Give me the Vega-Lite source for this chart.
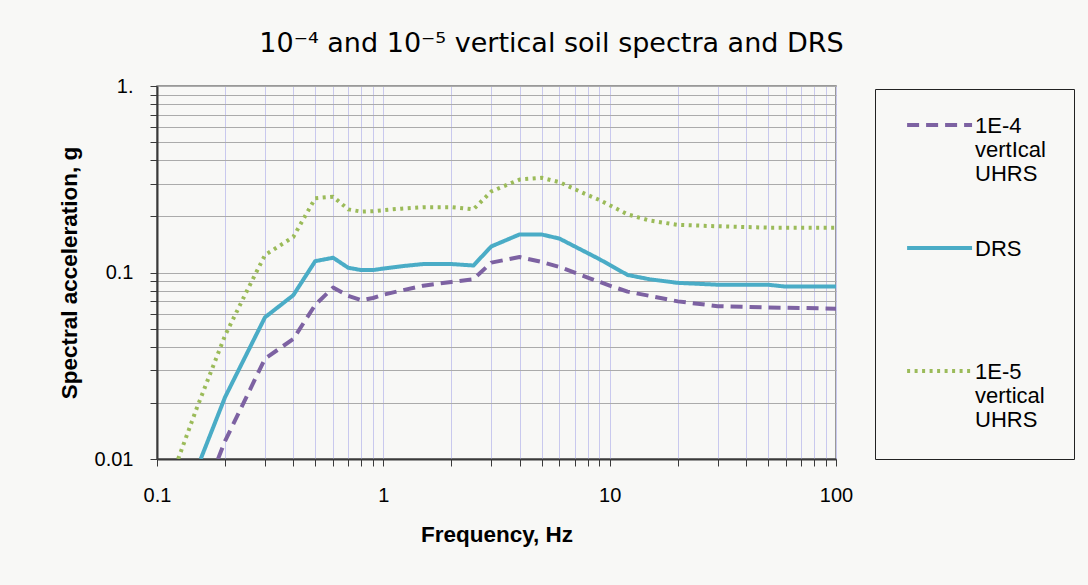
{
  "$schema": "https://vega.github.io/schema/vega-lite/v6.json",
  "width": 679,
  "height": 373,
  "autosize": {"type": "none"},
  "padding": {"left": 157, "top": 86, "right": 252, "bottom": 126},
  "background": "#f8f8f6",
  "title": {
    "text": "10⁻⁴ and 10⁻⁵ vertical soil spectra and DRS",
    "anchor": "middle",
    "frame": "group",
    "dx": 55,
    "dy": 35,
    "offset": 32,
    "baseline": "alphabetic",
    "font": "DejaVu Sans",
    "fontSize": 27,
    "fontWeight": "normal",
    "color": "#000000"
  },
  "config": {
    "view": {"stroke": "#7a7a7a", "strokeWidth": 1.5, "fill": "#f8f8f6"},
    "axis": {
      "labelFont": "Liberation Sans",
      "labelFontSize": 20,
      "labelColor": "#000000",
      "titleFont": "Liberation Sans",
      "titleFontSize": 22.5,
      "titleFontWeight": "bold",
      "titleColor": "#000000",
      "domainColor": "#3a3a3a",
      "domainWidth": 2,
      "tickColor": "#3a3a3a",
      "tickSize": 7,
      "gridWidth": 1
    },
    "legend": {
      "gridAlign": "all"
    }
  },
  "data": {
    "values": [
      {"f": 0.186, "sa": 0.01, "series": "1E-4 vertIcal UHRS"},
      {"f": 0.2, "sa": 0.0125, "series": "1E-4 vertIcal UHRS"},
      {"f": 0.3, "sa": 0.0345, "series": "1E-4 vertIcal UHRS"},
      {"f": 0.4, "sa": 0.044, "series": "1E-4 vertIcal UHRS"},
      {"f": 0.5, "sa": 0.067, "series": "1E-4 vertIcal UHRS"},
      {"f": 0.6, "sa": 0.083, "series": "1E-4 vertIcal UHRS"},
      {"f": 0.7, "sa": 0.075, "series": "1E-4 vertIcal UHRS"},
      {"f": 0.8, "sa": 0.071, "series": "1E-4 vertIcal UHRS"},
      {"f": 0.9, "sa": 0.073, "series": "1E-4 vertIcal UHRS"},
      {"f": 1.0, "sa": 0.076, "series": "1E-4 vertIcal UHRS"},
      {"f": 1.2, "sa": 0.08, "series": "1E-4 vertIcal UHRS"},
      {"f": 1.5, "sa": 0.085, "series": "1E-4 vertIcal UHRS"},
      {"f": 2.0, "sa": 0.089, "series": "1E-4 vertIcal UHRS"},
      {"f": 2.5, "sa": 0.092, "series": "1E-4 vertIcal UHRS"},
      {"f": 3.0, "sa": 0.113, "series": "1E-4 vertIcal UHRS"},
      {"f": 4.0, "sa": 0.121, "series": "1E-4 vertIcal UHRS"},
      {"f": 5.0, "sa": 0.114, "series": "1E-4 vertIcal UHRS"},
      {"f": 6.0, "sa": 0.107, "series": "1E-4 vertIcal UHRS"},
      {"f": 8.0, "sa": 0.094, "series": "1E-4 vertIcal UHRS"},
      {"f": 10, "sa": 0.085, "series": "1E-4 vertIcal UHRS"},
      {"f": 12, "sa": 0.079, "series": "1E-4 vertIcal UHRS"},
      {"f": 20, "sa": 0.07, "series": "1E-4 vertIcal UHRS"},
      {"f": 30, "sa": 0.066, "series": "1E-4 vertIcal UHRS"},
      {"f": 50, "sa": 0.065, "series": "1E-4 vertIcal UHRS"},
      {"f": 100, "sa": 0.064, "series": "1E-4 vertIcal UHRS"},

      {"f": 0.156, "sa": 0.01, "series": "DRS"},
      {"f": 0.2, "sa": 0.0215, "series": "DRS"},
      {"f": 0.3, "sa": 0.0575, "series": "DRS"},
      {"f": 0.4, "sa": 0.0755, "series": "DRS"},
      {"f": 0.5, "sa": 0.115, "series": "DRS"},
      {"f": 0.6, "sa": 0.12, "series": "DRS"},
      {"f": 0.7, "sa": 0.106, "series": "DRS"},
      {"f": 0.8, "sa": 0.103, "series": "DRS"},
      {"f": 0.9, "sa": 0.103, "series": "DRS"},
      {"f": 1.0, "sa": 0.105, "series": "DRS"},
      {"f": 1.2, "sa": 0.108, "series": "DRS"},
      {"f": 1.5, "sa": 0.111, "series": "DRS"},
      {"f": 2.0, "sa": 0.111, "series": "DRS"},
      {"f": 2.5, "sa": 0.109, "series": "DRS"},
      {"f": 3.0, "sa": 0.138, "series": "DRS"},
      {"f": 4.0, "sa": 0.16, "series": "DRS"},
      {"f": 5.0, "sa": 0.16, "series": "DRS"},
      {"f": 6.0, "sa": 0.152, "series": "DRS"},
      {"f": 8.0, "sa": 0.127, "series": "DRS"},
      {"f": 9.0, "sa": 0.118, "series": "DRS"},
      {"f": 12, "sa": 0.097, "series": "DRS"},
      {"f": 15, "sa": 0.092, "series": "DRS"},
      {"f": 20, "sa": 0.088, "series": "DRS"},
      {"f": 30, "sa": 0.086, "series": "DRS"},
      {"f": 50, "sa": 0.086, "series": "DRS"},
      {"f": 60, "sa": 0.084, "series": "DRS"},
      {"f": 100, "sa": 0.084, "series": "DRS"},

      {"f": 0.124, "sa": 0.01, "series": "1E-5 vertical UHRS"},
      {"f": 0.15, "sa": 0.0188, "series": "1E-5 vertical UHRS"},
      {"f": 0.2, "sa": 0.046, "series": "1E-5 vertical UHRS"},
      {"f": 0.25, "sa": 0.08, "series": "1E-5 vertical UHRS"},
      {"f": 0.3, "sa": 0.124, "series": "1E-5 vertical UHRS"},
      {"f": 0.4, "sa": 0.155, "series": "1E-5 vertical UHRS"},
      {"f": 0.5, "sa": 0.25, "series": "1E-5 vertical UHRS"},
      {"f": 0.6, "sa": 0.255, "series": "1E-5 vertical UHRS"},
      {"f": 0.7, "sa": 0.218, "series": "1E-5 vertical UHRS"},
      {"f": 0.8, "sa": 0.212, "series": "1E-5 vertical UHRS"},
      {"f": 0.9, "sa": 0.213, "series": "1E-5 vertical UHRS"},
      {"f": 1.0, "sa": 0.216, "series": "1E-5 vertical UHRS"},
      {"f": 1.2, "sa": 0.22, "series": "1E-5 vertical UHRS"},
      {"f": 1.5, "sa": 0.224, "series": "1E-5 vertical UHRS"},
      {"f": 2.0, "sa": 0.224, "series": "1E-5 vertical UHRS"},
      {"f": 2.5, "sa": 0.218, "series": "1E-5 vertical UHRS"},
      {"f": 3.0, "sa": 0.272, "series": "1E-5 vertical UHRS"},
      {"f": 4.0, "sa": 0.315, "series": "1E-5 vertical UHRS"},
      {"f": 5.0, "sa": 0.322, "series": "1E-5 vertical UHRS"},
      {"f": 6.0, "sa": 0.305, "series": "1E-5 vertical UHRS"},
      {"f": 8.0, "sa": 0.26, "series": "1E-5 vertical UHRS"},
      {"f": 9.0, "sa": 0.245, "series": "1E-5 vertical UHRS"},
      {"f": 12, "sa": 0.205, "series": "1E-5 vertical UHRS"},
      {"f": 15, "sa": 0.19, "series": "1E-5 vertical UHRS"},
      {"f": 20, "sa": 0.18, "series": "1E-5 vertical UHRS"},
      {"f": 30, "sa": 0.177, "series": "1E-5 vertical UHRS"},
      {"f": 50, "sa": 0.174, "series": "1E-5 vertical UHRS"},
      {"f": 100, "sa": 0.174, "series": "1E-5 vertical UHRS"}
    ]
  },
  "mark": {"type": "line", "clip": true, "strokeWidth": 4, "strokeJoin": "round"},
  "encoding": {
    "x": {
      "field": "f",
      "type": "quantitative",
      "scale": {"type": "log", "domain": [0.1, 100]},
      "axis": {
        "title": "Frequency, Hz",
        "values": [0.1, 0.2, 0.3, 0.4, 0.5, 0.6, 0.7, 0.8, 0.9, 1, 2, 3, 4, 5, 6, 7, 8, 9, 10, 20, 30, 40, 50, 60, 70, 80, 90, 100],
        "labelExpr": "datum.value == 0.1 ? '0.1' : datum.value == 1 ? '1' : datum.value == 10 ? '10' : datum.value == 100 ? '100' : ''",
        "labelPadding": 19,
        "labelOverlap": false,
        "labelFlush": false,
        "titlePadding": 18,
        "gridColor": "#c9c9ee"
      }
    },
    "y": {
      "field": "sa",
      "type": "quantitative",
      "scale": {"type": "log", "domain": [0.01, 1]},
      "axis": {
        "title": "Spectral acceleration, g",
        "values": [0.01, 0.02, 0.03, 0.04, 0.05, 0.06, 0.07, 0.08, 0.09, 0.1, 0.2, 0.3, 0.4, 0.5, 0.6, 0.7, 0.8, 0.9, 1],
        "labelExpr": "datum.value == 0.01 ? '0.01' : datum.value == 0.1 ? '0.1' : datum.value == 1 ? '1.' : ''",
        "labelPadding": 17,
        "labelOverlap": false,
        "labelFlush": false,
        "titlePadding": 13,
        "gridColor": "#ababab"
      }
    },
    "color": {
      "field": "series",
      "type": "nominal",
      "scale": {"domain": ["1E-4 vertIcal UHRS", "DRS", "1E-5 vertical UHRS"], "range": ["#7d62a2", "#4aacc6", "#9bbb59"]},
      "legend": {
        "title": null,
        "orient": "none",
        "legendX": 718,
        "legendY": 3,
        "padding": 28,
        "strokeColor": "#222222",
        "fillColor": "#f8f8f6",
        "symbolType": "M-0.85,-0.57L3.79,-0.57",
        "symbolSize": 784,
        "symbolStrokeWidth": 4,
        "labelFont": "Liberation Sans",
        "labelFontSize": 22,
        "labelColor": "#000000",
        "labelOffset": 40,
        "labelLimit": 200,
        "labelBaseline": "alphabetic",
        "labelExpr": "split(datum.label, ' ')",
        "rowPadding": 53
      }
    },
    "strokeDash": {
      "field": "series",
      "type": "nominal",
      "scale": {"domain": ["1E-4 vertIcal UHRS", "DRS", "1E-5 vertical UHRS"], "range": [[12, 7], [1, 0], [3, 4.5]]},
      "legend": {
        "title": null,
        "orient": "none",
        "legendX": 718,
        "legendY": 3,
        "padding": 28,
        "strokeColor": "#222222",
        "fillColor": "#f8f8f6",
        "symbolType": "M-0.85,-0.57L3.79,-0.57",
        "symbolSize": 784,
        "symbolStrokeWidth": 4,
        "labelFont": "Liberation Sans",
        "labelFontSize": 22,
        "labelColor": "#000000",
        "labelOffset": 40,
        "labelLimit": 200,
        "labelBaseline": "alphabetic",
        "labelExpr": "split(datum.label, ' ')",
        "rowPadding": 53
      }
    }
  }
}
